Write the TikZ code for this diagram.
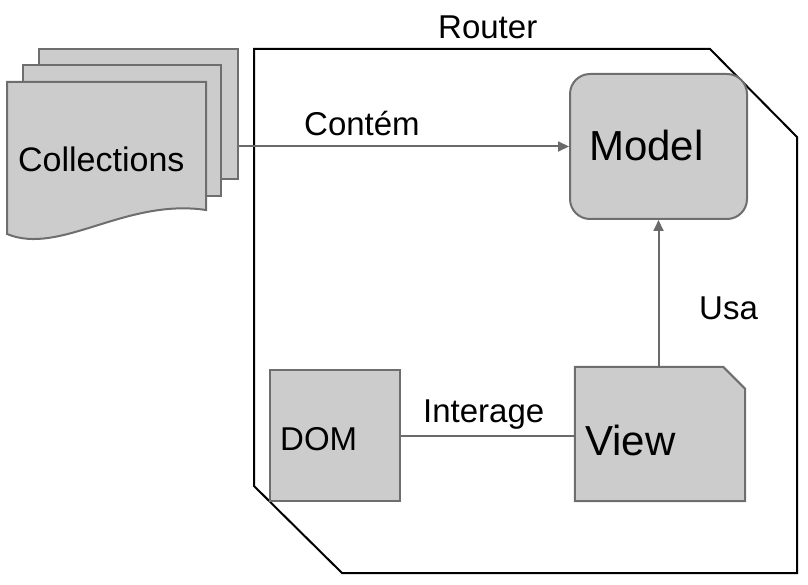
\documentclass[tikz,border=0pt]{standalone}
\usepackage{fontspec}
\setmainfont{Liberation Sans}
\usetikzlibrary{arrows.meta}
\definecolor{shapefill}{HTML}{CCCCCC}
\definecolor{shapeline}{HTML}{6E6E6E}
\definecolor{edgeline}{HTML}{6A6A6A}
\begin{document}
\begin{tikzpicture}[x=1pt,y=-1pt,
  shapebox/.style={draw=shapeline,fill=shapefill,line width=2pt,inner sep=0pt},
  hiddenbox/.style={inner sep=0pt},
  edge/.style={draw=edgeline,line width=2pt},
  arrowedge/.style={edge,-{Triangle[length=11pt,width=10pt]}},
  lbl/.style={inner sep=0pt,anchor=base west,font=\fontsize{33}{38}\selectfont},
  biglbl/.style={inner sep=0pt,anchor=base west,font=\fontsize{42}{47}\selectfont}]
\useasboundingbox (0,0) rectangle (808,585);

% Router container
\coordinate (routernw) at (254,49);
\coordinate (routerse) at (797,573);
\draw[black,line width=2pt,line join=miter]
  (routernw) -- ([xshift=-87pt]routerse |- routernw) -- ([yshift=-88pt]routerse |- routernw)
  -- (routerse) -- ([xshift=88pt]routernw |- routerse) -- ([yshift=87pt]routernw |- routerse) -- cycle;
\node[lbl] (routerlbl) at (438,39) {Router};

% Collections (multiple documents)
\node[shapebox,minimum width=199pt,minimum height=130pt] (collback) at (138.5,114) {};
\node[shapebox,minimum width=198pt,minimum height=131pt] (collmid) at (122,130.5) {};
\path[shapebox] (7,82) -- (206,82) -- (206,210)
  .. controls (125,198) and (60,256) .. (7,234) -- cycle;
\node[lbl,font=\fontsize{34}{39}\selectfont] (coll) at (18,172) {Collections};

% Model
\node[shapebox,rounded corners=20pt,minimum width=177pt,minimum height=145pt] (model) at (658.5,146.5) {};
\node[biglbl] (modeltext) at (589,161) {Model};

% DOM
\node[shapebox,minimum width=130pt,minimum height=131pt] (dom) at (335,435.5) {};
\node[lbl] (domtext) at (280,450) {DOM};

% View (card shape, clipped top-right corner)
\node[hiddenbox,minimum width=170pt,minimum height=134pt] (view) at (660,434) {};
\path[shapebox] (view.south west) -- (view.north west) -- ([xshift=-22pt]view.north east)
  -- ([yshift=-22pt]view.north east) -- (view.south east) -- cycle;
\node[biglbl] (viewtext) at (585,455) {View};

% Connectors
\draw[arrowedge] (collback.east |- model.west) -- (model.west);
\node[lbl] (contem) at (304,136) {Contém};
\draw[edge] (dom.east) -- (dom.east -| view.west);
\node[lbl] (interage) at (423,422) {Interage};
\draw[arrowedge] (view.north -| model.south) -- (model.south);
\node[lbl] (usa) at (699,319) {Usa};
\end{tikzpicture}
\end{document}
